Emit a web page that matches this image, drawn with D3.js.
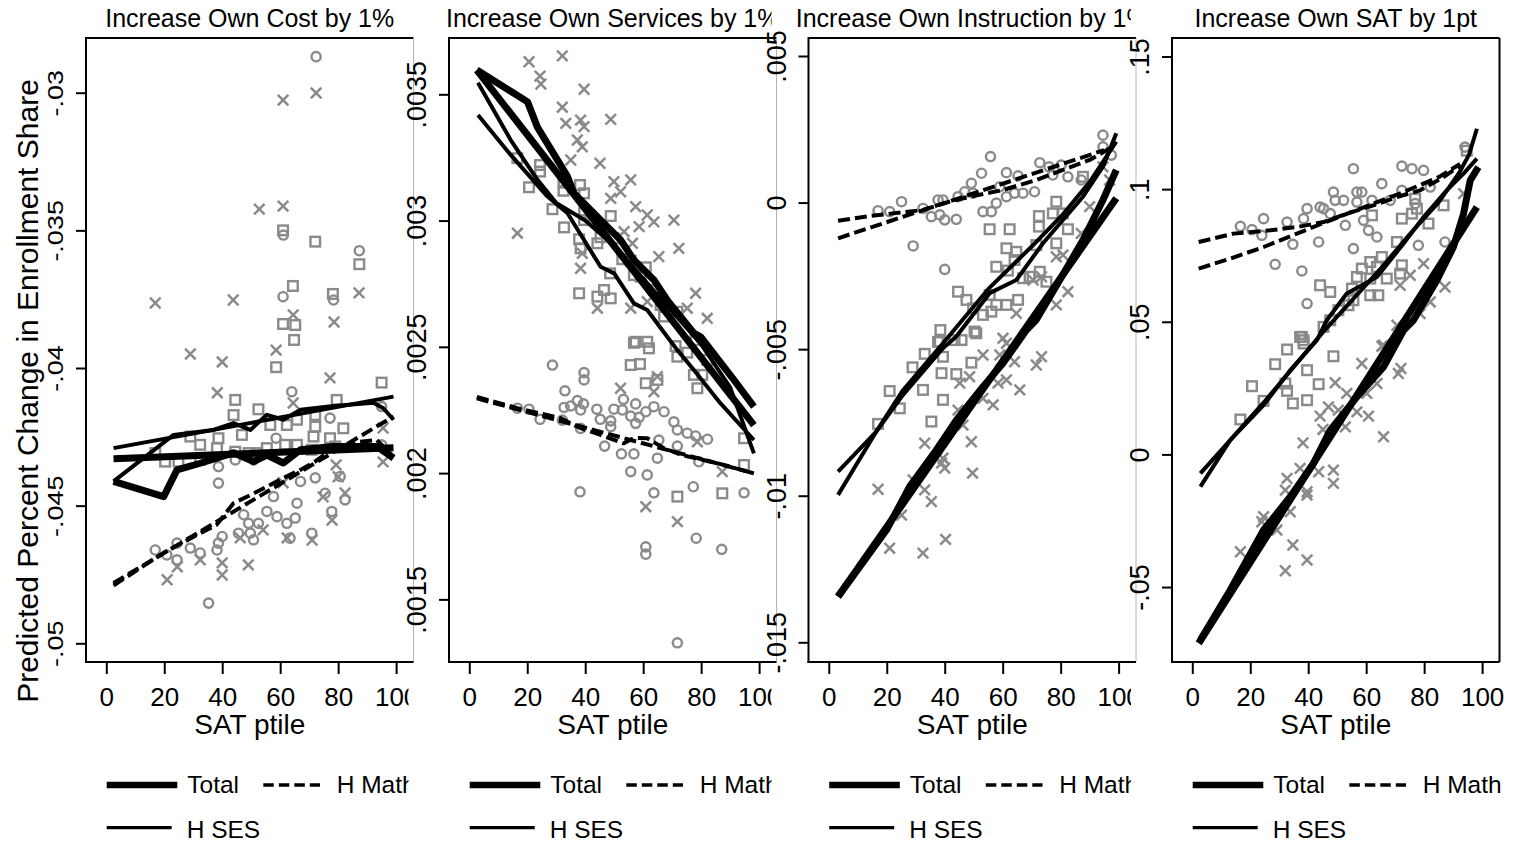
<!DOCTYPE html>
<html>
<head>
<meta charset="utf-8">
<script src="https://cdn.jsdelivr.net/npm/d3@7"></script>
<style>
    body { margin: 0; background: #fff; }
    svg { font-family: "Liberation Sans", Arial, sans-serif; }
</style>
</head>
<body>
<div id="chart"></div>
<script>

// ---- shared ----
var xTicks = [0, 20, 40, 60, 80, 100];
var legendLabels = ["Total", "H Math", "H SES"];
var yTitle = "Predicted Percent Change in Enrollment Share";
var xTitle = "SAT ptile";

// ---- panel 1: cost ----
var costYTicks = [-0.05, -0.045, -0.04, -0.035, -0.03];
var costYLabels = ["-.05", "-.045", "-.04", "-.035", "-.03"];
var costTotalPts = [[16.9,-0.03764],[43.8,-0.03753],[52.8,-0.03423],[61,-0.03412],[61,-0.03027],[72.4,-0.03001],[87.2,-0.03727],[78.6,-0.03833],[64.5,-0.03807],[29,-0.03949],[40,-0.03978],[58.6,-0.03935],[38.3,-0.0409],[77.2,-0.04036],[64.5,-0.04127],[95.5,-0.04218],[95.5,-0.04341],[79.3,-0.04352],[80,-0.04395],[74.8,-0.04468],[82.4,-0.04454],[77.9,-0.04552],[71,-0.04625],[62.4,-0.04617],[54.1,-0.04588],[46.2,-0.04617],[40,-0.04708],[40,-0.04752],[49,-0.04715],[32.4,-0.04697],[24.5,-0.04722],[21,-0.04769],[61,-0.04417]];
var costMathPts = [[72.4,-0.02869],[61.1,-0.03517],[87.3,-0.03574],[61,-0.03741],[78.4,-0.03753],[64,-0.04086],[58.6,-0.04255],[77.2,-0.04182],[95,-0.0414],[95,-0.04279],[38.7,-0.04418],[44.5,-0.04334],[38.7,-0.04358],[50.8,-0.04334],[67,-0.04412],[72.1,-0.04399],[80.7,-0.04394],[82.4,-0.04479],[77.8,-0.04521],[75.5,-0.04455],[65.8,-0.04491],[57.7,-0.04467],[55.4,-0.04521],[58.9,-0.0454],[52.5,-0.04564],[49.1,-0.04564],[47.4,-0.04533],[45.6,-0.046],[50.8,-0.04624],[62.3,-0.04564],[65.2,-0.04545],[70.9,-0.046],[63.4,-0.04618],[38.2,-0.04661],[38.7,-0.04636],[32.4,-0.04672],[29,-0.04654],[24.4,-0.04636],[20.9,-0.04679],[16.9,-0.04661],[24.4,-0.04697],[40,-0.04612],[35.3,-0.04854],[49.7,-0.046]];
var costSesPts = [[61,-0.035],[72.1,-0.03541],[87.3,-0.03623],[64.4,-0.03702],[78.2,-0.03731],[61,-0.0384],[65.2,-0.03844],[64.8,-0.03898],[58.6,-0.03997],[95,-0.04053],[44.5,-0.04116],[52.5,-0.0415],[79.5,-0.04116],[43.9,-0.04171],[46.8,-0.04243],[38.7,-0.04255],[29,-0.04249],[32.4,-0.04279],[72.1,-0.04171],[72.1,-0.04213],[81.8,-0.04219],[62.3,-0.04207],[65.8,-0.04188],[56.6,-0.04207],[71.5,-0.04249],[77.2,-0.04255],[79,-0.04285],[70.9,-0.04297],[61.7,-0.04279],[55.4,-0.04291],[49.1,-0.04309],[44.5,-0.04304],[38.2,-0.04291],[32.4,-0.04334],[24.9,-0.0434],[20.3,-0.0434],[16.9,-0.04309],[65.8,-0.04279],[51.9,-0.04309]];
var costTotalFit = [[2.5,-0.0433],[99.1,-0.0429]];
var costTotalLow = [[2.5,-0.04412],[19.8,-0.04467],[24.4,-0.0437],[32.4,-0.04346],[43.9,-0.04308],[50.8,-0.0434],[55.4,-0.04316],[61.1,-0.04345],[67,-0.04297],[78.4,-0.04285],[93.3,-0.04285],[99.1,-0.04327]];
var costSesFit = [[2.5,-0.04291],[99.1,-0.04104]];
var costSesLow = [[2.5,-0.04412],[23.2,-0.04243],[37,-0.04225],[43.9,-0.042],[49.7,-0.04225],[55.4,-0.0417],[61.1,-0.04188],[67,-0.04152],[78.4,-0.04138],[92.2,-0.04126],[95.6,-0.04146],[99.1,-0.04188]];
var costMathFit = [[2.5,-0.04781],[99.1,-0.04176]];
var costMathLow = [[2.5,-0.0479],[20,-0.0467],[32.4,-0.046],[38,-0.0457],[43.9,-0.04491],[50,-0.0446],[55.4,-0.04431],[61,-0.044],[67,-0.0437],[72,-0.0434],[78.4,-0.04291],[86,-0.0427],[93.3,-0.04261],[99.1,-0.04322]];

// ---- panel 2: services ----
var servYTicks = [0.0015, 0.002, 0.0025, 0.003, 0.0035];
var servYLabels = [".0015", ".002", ".0025", ".003", ".0035"];
var servTotalPts = [[20.6,0.003629],[32.1,0.003652],[24.4,0.003572],[24.7,0.003541],[39.6,0.00352],[32.1,0.003449],[38.4,0.003398],[39.6,0.003372],[48.8,0.003401],[33.3,0.003385],[37.3,0.003319],[39,0.003292],[35,0.00324],[45.1,0.003227],[49.9,0.003154],[55.7,0.003161],[52.2,0.003114],[48.8,0.003088],[57.4,0.003055],[61.4,0.003022],[63.7,0.002995],[70.6,0.003002],[58.6,0.002976],[53.4,0.002956],[56.3,0.00291],[72.3,0.00289],[16.6,0.00295],[65.4,0.002857],[39,0.00287],[38.4,0.002811],[78.1,0.002712],[55.7,0.002653],[44.2,0.002653],[75.2,0.002653],[82.1,0.002613],[61.4,0.002679],[52.2,0.002336],[64.9,0.002382],[63.7,0.002322],[60.9,0.001867],[71.8,0.001808],[87.3,0.002006],[78.7,0.002124]];
var servMathPts = [[28.7,0.002428],[39.6,0.002398],[39.6,0.002369],[33,0.002326],[37.3,0.002287],[39.4,0.002274],[16.6,0.002257],[20.6,0.002253],[24.4,0.002213],[32.7,0.00226],[35,0.002266],[38.4,0.00225],[44,0.002253],[45.2,0.002213],[48.8,0.002207],[49.9,0.002253],[52.8,0.00225],[53.2,0.002292],[57.4,0.002274],[55.7,0.002226],[58.6,0.002221],[60.9,0.002243],[63.7,0.002263],[67.2,0.002243],[57.4,0.002197],[48.8,0.002184],[38.4,0.002177],[32.1,0.00221],[70.6,0.002203],[71.8,0.002171],[75.2,0.002158],[78.1,0.002147],[82.2,0.002134],[65.4,0.002131],[64.9,0.002059],[71.8,0.002107],[79.2,0.002045],[46.7,0.002107],[52.5,0.002076],[56.8,0.002076],[55.7,0.002006],[61.4,0.001993],[63.7,0.001922],[77.3,0.001946],[94.8,0.001922],[38.2,0.001926],[60.9,0.001708],[60.9,0.001679],[78.3,0.001742],[87.1,0.001698],[71.8,0.001328]];
var servSesPts = [[16.6,0.003247],[24.4,0.00322],[24.4,0.003194],[20.6,0.003132],[32.5,0.00315],[32.5,0.003118],[38.2,0.003141],[39.6,0.003108],[28.7,0.003045],[32.7,0.002973],[39.6,0.003031],[39.6,0.003002],[48.8,0.003018],[37.9,0.002926],[38.4,0.00289],[45.3,0.002934],[44.2,0.00291],[49.9,0.00293],[52.8,0.002847],[55.7,0.002841],[60.9,0.002815],[56.8,0.002784],[59.1,0.002778],[48.6,0.002791],[37.9,0.002712],[44.2,0.002699],[48.8,0.002692],[46.5,0.002725],[63.7,0.002725],[66,0.002666],[67.2,0.00262],[71.8,0.002639],[78.1,0.002527],[57.4,0.00252],[61.4,0.00252],[56.8,0.002516],[62,0.002494],[71.2,0.002503],[75.2,0.002477],[71.8,0.002461],[55.7,0.002428],[58.9,0.002432],[77.5,0.002389],[80.4,0.002389],[78.7,0.002336],[82.1,0.002448],[60.9,0.002356],[64.9,0.002369],[94.8,0.002138],[94.8,0.002032],[71.8,0.001907],[87.3,0.00192]];
var servTotalFit = [[2.6,0.003596],[98.2,0.00219]];
var servTotalLow = [[2.6,0.003596],[15.4,0.003504],[20.1,0.00347],[23.5,0.00337],[33.9,0.003174],[36.1,0.003108],[47.6,0.002976],[52.2,0.002923],[56.8,0.002844],[63.7,0.002765],[68.3,0.002685],[77.5,0.002554],[79.8,0.00254],[91.3,0.002369],[98.2,0.002263]];
var servSesFit = [[3,0.003418],[14.3,0.00326],[27,0.003095],[33.9,0.003029],[45.3,0.002817],[50,0.002791],[56.8,0.002672],[61.4,0.002646],[68.3,0.00254],[71.8,0.002487],[77.5,0.002408],[86.7,0.002276],[98.2,0.002131]];
var servSesLow = [[3,0.003546],[14.3,0.003319],[23,0.00317],[30,0.00307],[40,0.003],[50,0.0029],[60,0.00277],[70,0.00264],[80,0.00251],[90,0.00234],[98.2,0.002078]];
var servMathFit = [[2.6,0.002296],[98.2,0.001999]];
var servMathLow = [[2.6,0.002302],[16.6,0.002257],[31.6,0.002217],[38,0.00218],[45.3,0.002151],[53.3,0.002118],[57,0.00214],[61.4,0.002138],[67,0.0021],[73.1,0.002072],[85.7,0.002039],[98.2,0.001999]];

// ---- panel 3: instruction ----
var instYTicks = [-0.015, -0.01, -0.005, 0, 0.005];
var instYLabels = ["-.015", "-.01", "-.005", "0", ".005"];
var instTotalPts = [[17,-0.00978],[21,-0.01179],[32.5,-0.01196],[40.3,-0.01149],[33.1,-0.00821],[25.1,-0.01066],[35.4,-0.0102],[33.1,-0.0098],[38.9,-0.00889],[40,-0.00906],[39.4,-0.00872],[49.6,-0.00923],[49.2,-0.00816],[46.3,-0.00759],[44.6,-0.00708],[56.7,-0.0069],[53.2,-0.00668],[48.6,-0.00594],[45.2,-0.00616],[58.4,-0.00616],[61.3,-0.00605],[65.9,-0.00639],[64.1,-0.00543],[59,-0.0052],[53.2,-0.0052],[61.3,-0.0048],[71.6,-0.00554],[73.4,-0.00526],[29.1,-0.00946],[64.7,-0.00378],[78.5,-0.00185],[80.8,-0.00179],[82.5,-0.00304],[78.5,-0.00349],[87.1,-0.00105],[70.5,-0.00264],[60.1,-0.00463],[73.4,-0.00253],[94.6,0.00122],[96.9,0.00077],[90,-0.00014]];
var instMathPts = [[17,-0.000277],[21,-0.00031],[25.1,0.00003],[29.1,-0.00148],[32.5,-0.0002],[35.4,-0.00048],[37.7,0.00009],[39.4,0.00009],[38.3,-0.00042],[40,-0.00059],[44,-0.00057],[40,-0.00228],[44.6,0.0002],[46.9,0.00037],[49.2,0.00066],[49.8,0.00032],[52.7,0.001],[53.2,-0.00031],[56.1,-0.00031],[55.8,0.00157],[59,0.00054],[61.3,0.00102],[61.3,0.0002],[64.1,0.00032],[65.3,0.00091],[67,0.00032],[71,0.00037],[72.8,0.00136],[76,0.00122],[77.3,0.00094],[80.2,0.00128],[82.5,0.00088],[87.1,0.00077],[94.6,0.0023],[94.6,0.0019],[97.5,0.00162],[57.8,-0.00002]];
var instSesPts = [[55.5,-0.00091],[62.4,-0.00091],[72.5,-0.00046],[72.5,-0.00082],[78.5,0.00003],[77.3,-0.00037],[80.8,-0.00037],[82.5,-0.00091],[87.7,0.00088],[61.3,-0.00156],[64.7,-0.00168],[64.1,-0.00196],[57.8,-0.00219],[61.8,-0.00232],[71.6,-0.00145],[78.5,-0.00139],[72.8,-0.00236],[69.3,-0.00253],[75.1,-0.0027],[67,-0.00258],[65.3,-0.00332],[44.6,-0.00304],[47.5,-0.00332],[49.8,-0.00361],[55.5,-0.00315],[57.8,-0.00349],[61.3,-0.00349],[53.2,-0.00383],[56.1,-0.00372],[50.3,-0.0044],[38.5,-0.00435],[37.7,-0.00475],[43.4,-0.00469],[38.3,-0.00475],[39.4,-0.00526],[33.1,-0.00516],[28.9,-0.00562],[49.2,-0.00546],[38.9,-0.00582],[44,-0.00585],[32.5,-0.00639],[21,-0.00643],[24.5,-0.00702],[39.4,-0.00673],[35.4,-0.00747],[17,-0.00755],[45.8,-0.00469],[50.9,-0.00446]];
var instTotalFit = [[3.2,-0.01344],[99.2,0.000146]];
var instTotalLow = [[3.2,-0.01344],[19.9,-0.01117],[27.9,-0.00969],[37.1,-0.00844],[44,-0.00742],[53.2,-0.00628],[60.1,-0.00548],[68.2,-0.00435],[71.6,-0.004],[79.7,-0.00264],[87.7,-0.00128],[94.6,0.000088],[99.2,0.00111]];
var instSesFit = [[3.2,-0.00997],[16.4,-0.00781],[25.6,-0.0064],[39.4,-0.0048],[55.5,-0.0029],[70,-0.0015],[80.8,-0.0004],[90,0.0007],[99.2,0.00208]];
var instSesLow = [[3.2,-0.00918],[16.4,-0.00781],[25.6,-0.00656],[39.4,-0.00497],[44,-0.00457],[55.5,-0.00309],[64.7,-0.00264],[73.9,-0.00139],[80.8,-0.000594],[87.7,0.0002],[94.6,0.001224],[99.2,0.002363]];
var instMathFit = [[3.2,-0.001218],[95,0.00179]];
var instMathLow = [[3.2,-0.000618],[14.1,-0.000458],[32.5,-0.000253],[41.7,0.00003],[48.6,0.0002],[60.1,0.000429],[71.6,0.000771],[80.8,0.001112],[90,0.001453],[98,0.00191]];

// ---- panel 4: SAT ----
var satYTicks = [-0.05, 0, 0.05, 0.1, 0.15];
var satYLabels = ["-.05", "0", ".05", ".1", ".15"];
var satTotalPts = [[16.6,-0.03668],[32.1,-0.04384],[39.6,-0.0398],[34.7,-0.03415],[24.6,-0.02351],[24,-0.02539],[29.2,-0.02851],[33.8,-0.02162],[32.7,-0.00904],[32.1,-0.01344],[37.2,-0.00528],[39.6,-0.01408],[39.6,-0.01533],[43.6,-0.00653],[48.7,-0.00591],[48.7,-0.01092],[38.2,0.00436],[44.1,0.01442],[45.1,0.00941],[47,0.01793],[49.3,0.027],[50.4,0.01668],[53.3,0.023],[52.8,0.01039],[56.8,0.01604],[60.8,0.01442],[66,0.00664],[58.5,0.03427],[63.7,0.02673],[65.4,0.04079],[71.1,0.03051],[72,0.03239],[60.2,0.023],[79.8,0.07193],[75.2,0.06752],[87.2,0.06312],[82.1,0.05747],[78.6,0.0531],[71.7,0.06376],[66,0.04116],[70.6,0.04869],[93.6,0.09829]];
var satMathPts = [[16.6,0.08598],[20.6,0.08474],[24.6,0.08888],[24,0.08259],[28.6,0.07167],[32.7,0.0876],[34.7,0.0792],[37.8,0.06915],[38.4,0.08888],[39.6,0.09264],[39.6,0.05687],[43.6,0.08007],[44.1,0.09325],[45.3,0.09264],[47.6,0.09076],[48.7,0.0989],[49.3,0.09577],[52.2,0.09577],[52.8,0.08636],[55.6,0.10771],[55.6,0.07758],[56.8,0.0989],[58.5,0.0989],[56.8,0.09513],[59.1,0.08824],[60.8,0.08447],[63.7,0.08195],[62,0.09577],[65.4,0.10206],[72.3,0.10869],[75.8,0.10771],[79.8,0.10707],[72.3,0.09954],[76.9,0.09453],[78,0.07883],[82.1,0.10078],[87.2,0.08007],[94.1,0.11585],[68.3,0.09577]];
var satSesPts = [[72.3,0.08888],[76.9,0.09641],[77.5,0.09264],[81.5,0.087],[86.7,0.09389],[75.8,0.09076],[70.6,0.08007],[61.4,0.07254],[65.4,0.07442],[58.5,0.07005],[63.7,0.07065],[72.3,0.07129],[71.7,0.06816],[67.1,0.06628],[61.4,0.06628],[56.8,0.06688],[55.1,0.06251],[64.2,0.06],[61.4,0.06],[44.1,0.06376],[47.6,0.06124],[53.9,0.05623],[50.4,0.05434],[47.6,0.05058],[55.6,0.05811],[37.2,0.04429],[38.4,0.04305],[62,0.09012],[37.8,0.04429],[38.4,0.0418],[32.7,0.03954],[28.6,0.034],[20.6,0.02572],[24.6,0.02019],[32.1,0.02673],[32.7,0.02396],[34.7,0.01921],[39.6,0.02045],[39.6,0.03175],[43.6,0.02648],[48.7,0.037],[16.6,0.01317],[45.3,0.04807],[94.7,0.1145]];
var satTotalFit = [[2.2,-0.07118],[98.2,0.09325]];
var satTotalLow = [[2.8,-0.06993],[13.1,-0.0511],[24.6,-0.0285],[33.8,-0.01597],[41.8,-0.00339],[47.6,0.00915],[56.8,0.02169],[66,0.033],[72.9,0.04682],[76.3,0.05058],[84.4,0.06564],[90.1,0.07818],[93.6,0.09076],[95.9,0.1033],[98.7,0.1083]];
var satSesFit = [[2.8,-0.01217],[13.1,0.00539],[24.6,0.0195],[35,0.033],[45,0.046],[55,0.058],[65,0.07],[75,0.083],[85,0.095],[92,0.106],[95.5,0.113],[98.2,0.12277]];
var satSesLow = [[2.8,-0.00715],[13.1,0.00539],[24.6,0.01857],[33.8,0.03175],[43,0.04305],[46.4,0.05058],[53.3,0.06063],[63.7,0.06688],[72.9,0.07946],[79.8,0.08948],[87.8,0.09954],[93.6,0.10583],[98.2,0.11147]];
var satMathFit = [[2.2,0.07005],[13.1,0.07381],[24.6,0.07818],[36.1,0.08323],[47.6,0.08824],[60,0.0935],[72,0.0985],[85,0.1045],[92.4,0.1095]];
var satMathLow = [[2.2,0.08007],[14.2,0.08323],[26.9,0.08447],[36.1,0.08571],[45.3,0.0876],[53.3,0.09076],[62.5,0.09389],[70.6,0.09701],[78.6,0.09954],[86.7,0.10455],[92.4,0.1089]];

// panel table built from the arrays above
var panels = [
    {title: "Increase Own Cost by 1%", left: 86, yDomain: [-0.050679, -0.028013],
        yTicks: costYTicks, yLabels: costYLabels, labelScale: 0.85, clip: true,
        totalPts: costTotalPts, mathPts: costMathPts, sesPts: costSesPts,
        lines: [costSesFit, costSesLow, costMathFit, costMathLow, costTotalFit, costTotalLow]},
    {title: "Increase Own Services by 1%", left: 449, yDomain: [0.001252, 0.003723],
        yTicks: servYTicks, yLabels: servYLabels, labelScale: 1, clip: true,
        totalPts: servTotalPts, mathPts: servMathPts, sesPts: servSesPts,
        lines: [servSesFit, servSesLow, servMathFit, servMathLow, servTotalFit, servTotalLow]},
    {title: "Increase Own Instruction by 1%", left: 808.5, yDomain: [-0.015672, 0.005614],
        yTicks: instYTicks, yLabels: instYLabels, labelScale: 1, clip: true,
        totalPts: instTotalPts, mathPts: instMathPts, sesPts: instSesPts,
        lines: [instSesFit, instSesLow, instMathFit, instMathLow, instTotalFit, instTotalLow]},
    {title: "Increase Own SAT by 1pt", left: 1172, yDomain: [-0.07825, 0.15697],
        yTicks: satYTicks, yLabels: satYLabels, labelScale: 1, clip: false,
        totalPts: satTotalPts, mathPts: satMathPts, sesPts: satSesPts,
        lines: [satSesFit, satSesLow, satMathFit, satMathLow, satTotalFit, satTotalLow]}
];

var W = 1514, H = 843;
var plotW = 327.5, plotTop = 38, plotBottom = 662;
var gray = "#8a8a8a";

var svg = d3.select("#chart").append("svg")
    .attr("width", W)
    .attr("height", H);

var defs = svg.append("defs");

// line styles for [sesFit, sesLow, mathFit, mathLow, totalFit, totalLow]
var lineStyles = [
    {w: 4, dash: null}, {w: 4, dash: null},
    {w: 4, dash: "12,5"}, {w: 4, dash: "12,5"},
    {w: 7, dash: null}, {w: 7, dash: null}
];

panels.forEach(function(p, i) {
    var right = p.left + plotW;

    if (p.clip) {
        // text and marks are cut a little inside the right frame edge
        defs.append("clipPath").attr("id", "clip" + i)
            .append("rect")
            .attr("x", p.left - 100).attr("y", 0)
            .attr("width", right - 5 - (p.left - 100)).attr("height", H);
    }

    var outer = svg.append("g");
    var g = outer.append("g");
    if (p.clip) g.attr("clip-path", "url(#clip" + i + ")");

    var x = d3.scaleLinear().domain([-7, 106]).range([p.left, right]);
    var y = d3.scaleLinear().domain(p.yDomain).range([plotBottom, plotTop]);

    // title
    g.append("text")
        .attr("x", (p.left + right) / 2)
        .attr("y", 26.5)
        .attr("text-anchor", "middle")
        .style("font-size", "25px")
        .text(p.title);

    // scatter markers
    g.append("g").selectAll("circle")
        .data(p.mathPts)
        .join("circle")
        .attr("cx", function(d) { return x(d[0]); })
        .attr("cy", function(d) { return y(d[1]); })
        .attr("r", 4.6)
        .attr("fill", "none")
        .attr("stroke", gray)
        .attr("stroke-width", 2.4);

    g.append("g").selectAll("rect")
        .data(p.sesPts)
        .join("rect")
        .attr("x", function(d) { return x(d[0]) - 4.8; })
        .attr("y", function(d) { return y(d[1]) - 4.8; })
        .attr("width", 9.6)
        .attr("height", 9.6)
        .attr("fill", "none")
        .attr("stroke", gray)
        .attr("stroke-width", 2.4);

    g.append("g").selectAll("path")
        .data(p.totalPts)
        .join("path")
        .attr("d", function(d) {
            var cx = x(d[0]), cy = y(d[1]), s = 5.3;
            return "M" + (cx - s) + "," + (cy - s) + "L" + (cx + s) + "," + (cy + s) +
                "M" + (cx - s) + "," + (cy + s) + "L" + (cx + s) + "," + (cy - s);
        })
        .attr("stroke", gray)
        .attr("stroke-width", 2.5);

    // fitted lines
    var line = d3.line()
        .x(function(d) { return x(d[0]); })
        .y(function(d) { return y(d[1]); });

    p.lines.forEach(function(ln, k) {
        g.append("path")
            .datum(ln)
            .attr("d", line)
            .attr("fill", "none")
            .attr("stroke", "#000")
            .attr("stroke-width", lineStyles[k].w)
            .attr("stroke-linejoin", "round")
            .attr("stroke-dasharray", lineStyles[k].dash);
    });

    // frame
    outer.append("line").attr("x1", p.left).attr("x2", right).attr("y1", plotTop).attr("y2", plotTop)
        .attr("stroke", "#000").attr("stroke-width", 2);
    outer.append("line").attr("x1", right).attr("x2", right).attr("y1", plotTop).attr("y2", plotBottom)
        .attr("stroke", p.clip ? "#b4b4b4" : "#000").attr("stroke-width", p.clip ? 1 : 2);

    // y axis
    var yAxis = d3.axisLeft(y)
        .tickValues(p.yTicks)
        .tickSize(10)
        .tickFormat(function(d, j) { return p.yLabels[j]; });

    var ya = g.append("g")
        .attr("transform", "translate(" + p.left + ",0)")
        .call(yAxis);
    ya.select(".domain").remove();
    ya.selectAll(".tick line").attr("stroke", "#000").attr("stroke-width", 2);
    ya.selectAll(".tick text")
        .attr("x", 0)
        .attr("dy", null)
        .attr("y", -23 / p.labelScale)
        .attr("transform", "rotate(-90) scale(1," + p.labelScale + ")")
        .attr("text-anchor", "middle")
        .attr("fill", "#000")
        .style("font-size", "27px")
        .style("font-family", "'Liberation Sans', Arial, sans-serif");
    outer.append("line").attr("x1", p.left).attr("x2", p.left).attr("y1", plotTop - 1).attr("y2", plotBottom + 1)
        .attr("stroke", "#000").attr("stroke-width", 2);

    // x axis
    var xAxis = d3.axisBottom(x)
        .tickValues(xTicks)
        .tickSize(12);
    var xa = g.append("g")
        .attr("transform", "translate(0," + plotBottom + ")")
        .call(xAxis);
    xa.select(".domain").remove();
    xa.selectAll(".tick line").attr("stroke", "#000").attr("stroke-width", 2);
    xa.selectAll(".tick text")
        .attr("y", 44)
        .attr("dy", null)
        .attr("fill", "#000")
        .style("font-size", "26px")
        .style("font-family", "'Liberation Sans', Arial, sans-serif");
    outer.append("line").attr("x1", p.left - 1).attr("x2", right).attr("y1", plotBottom).attr("y2", plotBottom)
        .attr("stroke", "#000").attr("stroke-width", 2);

    g.append("text")
        .attr("x", (p.left + right) / 2)
        .attr("y", 734)
        .attr("text-anchor", "middle")
        .style("font-size", "28px")
        .text(xTitle);

    // legend
    var lg = g.append("g").attr("transform", "translate(" + p.left + ",0)");
    lg.append("line").attr("x1", 20.7).attr("x2", 91.3).attr("y1", 785).attr("y2", 785)
        .attr("stroke", "#000").attr("stroke-width", 6.5);
    lg.append("text").attr("x", 101.3).attr("y", 793.3).style("font-size", "24.5px").text(legendLabels[0]);
    lg.append("line").attr("x1", 177.3).attr("x2", 234).attr("y1", 785).attr("y2", 785)
        .attr("stroke", "#000").attr("stroke-width", 3.5).attr("stroke-dasharray", "10.5,5");
    lg.append("text").attr("x", 250.7).attr("y", 793.3).style("font-size", "24.5px").text(legendLabels[1]);
    lg.append("line").attr("x1", 20.7).attr("x2", 85.7).attr("y1", 827.7).attr("y2", 827.7)
        .attr("stroke", "#000").attr("stroke-width", 3.3);
    lg.append("text").attr("x", 100.7).attr("y", 838.3).style("font-size", "24.5px").text(legendLabels[2]);
});

// shared y title
svg.append("text")
    .attr("transform", "translate(38,391) rotate(-90)")
    .attr("text-anchor", "middle")
    .style("font-size", "30px")
    .text(yTitle);

</script>
</body>
</html>
